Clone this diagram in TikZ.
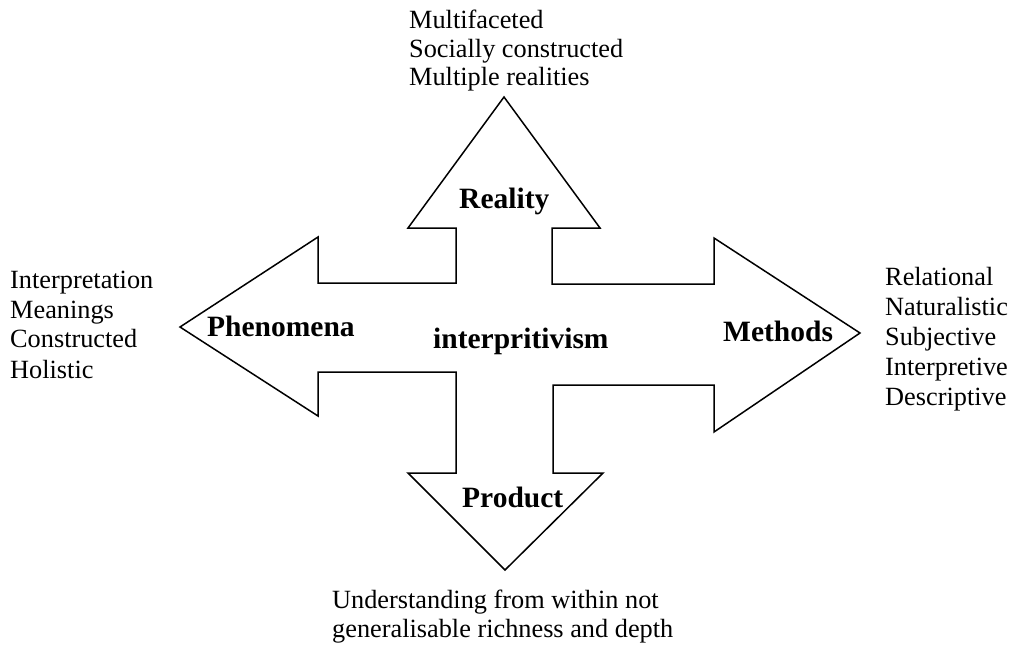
\documentclass[tikz,border=0pt]{standalone}
\usepackage{fontspec}
\setmainfont{Liberation Serif}
\usetikzlibrary{positioning}

\begin{document}
\begin{tikzpicture}[x=1pt,y=-1pt]

\tikzstyle{outline} = [line width=1.5pt, line join=miter]
\tikzstyle{labelnode} = [inner sep=0pt, anchor=base west, font=\fontsize{29.5}{34}\selectfont\bfseries]
\tikzstyle{listnode} = [inner sep=0pt, anchor=base west, font=\fontsize{26.3}{30}\selectfont]

\useasboundingbox (0,0) rectangle (1017,648);

% the four-way arrow
\coordinate (upL) at (456,283);
\coordinate (upTip) at (504,97);
\coordinate (rightTip) at (860,333);
\coordinate (downTip) at (505,570);
\coordinate (leftTip) at (180,327);
\draw [outline] (upL) -- (456,228) -- (408,228) -- (upTip) -- (600,228) -- (552,228)
  -- (552,284) -- (714,284) -- (714,238) -- (rightTip) -- (714,432) -- (714,385)
  -- (553,385) -- (553,473) -- (603,473) -- (downTip) -- (408,473) -- (456,473)
  -- (456,372) -- (318,372) -- (318,416) -- (leftTip) -- (318,237) -- (318,283)
  -- cycle;

% labels
\node [labelnode] (reality) at (459,208) {Reality};
\node [labelnode] (phenomena) at (207,336) {Phenomena};
\node [labelnode] (centre) at (433,348) {interpritivism};
\node [labelnode] (methods) at (723,341) {Methods};
\node [labelnode] (product) at (462,507) {Product};

% reality
\node [listnode] (r1) at (409,28) {Multifaceted};
\node [listnode] (r2) at (409,57) {Socially constructed};
\node [listnode] (r3) at (409,85) {Multiple realities};

% phenomena
\node [listnode] (p1) at (10,288) {Interpretation};
\node [listnode] (p2) at (10,318) {Meanings};
\node [listnode] (p3) at (10,347) {Constructed};
\node [listnode] (p4) at (10,378) {Holistic};

% methods
\node [listnode] (m1) at (885,285) {Relational};
\node [listnode] (m2) at (885,315) {Naturalistic};
\node [listnode] (m3) at (885,345) {Subjective};
\node [listnode] (m4) at (885,375) {Interpretive};
\node [listnode] (m5) at (885,405) {Descriptive};

% product
\node [listnode] (d1) at (332,608) {Understanding from within not};
\node [listnode] (d2) at (332,637) {generalisable richness and depth};

\end{tikzpicture}
\end{document}
